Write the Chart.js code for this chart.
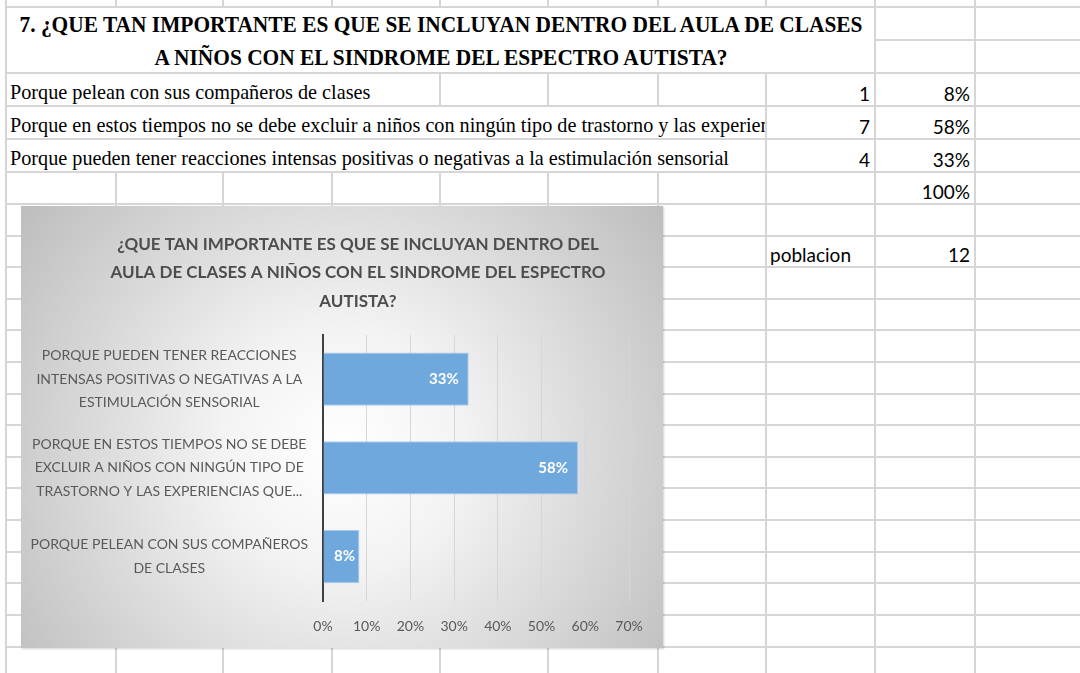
<!DOCTYPE html>
<html lang="es">
<head>
<meta charset="utf-8">
<title>Pregunta 7</title>
<script src="https://cdn.jsdelivr.net/npm/chart.js@4.4.1/dist/chart.umd.min.js"></script>
<style>
  html, body { margin: 0; padding: 0; background: #fff; }
  #sheet { position: relative; width: 1080px; height: 673px; overflow: hidden; }
  .cell { position: absolute; box-sizing: border-box; border-right: 2px solid #d6d6d6; border-bottom: 2px solid #d6d6d6; overflow: hidden; white-space: nowrap; }
  .serif { font-family: 'Liberation Serif', 'Times New Roman', serif; font-size: 21px; color: #000; }
  .serif.bold { font-weight: bold; font-size: 24px; }
  .num { font-family: Lato, 'Open Sans', sans-serif; font-size: 19px; color: #000; }
  .txt { position: absolute; display: inline-block; line-height: normal; }
  #leftLine { position: absolute; left: 5px; top: 0; width: 2px; height: 673px; background: #d6d6d6; }
  #chartBox {
    position: absolute; left: 21px; top: 206px; width: 642px; height: 442px;
    background: radial-gradient(circle farthest-corner at 50% 55%, #ffffff 0%, #f3f3f3 30%, #bdbdbd 100%);
    box-shadow: 1px 1px 2px rgba(0,0,0,0.18);
  }
</style>
</head>
<body>
<div id="sheet">
  <div id="leftLine"></div>
  <div id="chartBox"><canvas id="grafico" width="642" height="442"></canvas></div>
</div>
<script>
// datos de la hoja
const tituloHoja = [
  '7. ¿QUE TAN IMPORTANTE ES QUE SE INCLUYAN DENTRO DEL AULA DE CLASES',
  'A NIÑOS CON EL SINDROME DEL ESPECTRO AUTISTA?'
];
const respuestas = [
  'Porque pelean con sus compañeros de clases',
  'Porque en estos tiempos no se debe excluir a niños con ningún tipo de trastorno y las experiencias que',
  'Porque pueden tener reacciones intensas positivas o negativas a la estimulación sensorial'
];
const frecuencias = [1, 7, 4];
const porcentajesTxt = ['8%', '58%', '33%'];
const totalTxt = '100%';
const poblacion = 12;

// datos del grafico
const tituloGrafico = [
  '¿QUE TAN IMPORTANTE ES QUE SE INCLUYAN DENTRO DEL',
  'AULA DE CLASES A NIÑOS CON EL SINDROME DEL ESPECTRO',
  'AUTISTA?'
];
const categorias = [
  ['PORQUE PELEAN CON SUS COMPAÑEROS', 'DE CLASES'],
  ['PORQUE EN ESTOS TIEMPOS NO SE DEBE', 'EXCLUIR A NIÑOS CON NINGÚN TIPO DE', 'TRASTORNO Y LAS EXPERIENCIAS QUE...'],
  ['PORQUE PUEDEN TENER REACCIONES', 'INTENSAS POSITIVAS O NEGATIVAS A LA', 'ESTIMULACIÓN SENSORIAL']
];
const porcentajes = [8.33, 58.33, 33.33];
const etiquetas = ['8%', '58%', '33%'];
const ticksX = [0, 10, 20, 30, 40, 50, 60, 70];

// cuadricula de la hoja
const colX = [7, 117, 224, 333, 441, 549, 659, 767, 876, 976, 1090];
const rowY = [-30, 8, 41, 74, 107, 140, 173, 205, 237, 268, 300, 331, 363, 395, 426, 458, 489, 521, 553, 584, 616, 648, 690];
const merges = [[1, 0, 2, 8], [3, 0, 1, 4], [4, 0, 1, 7], [5, 0, 1, 7]];

const sheet = document.getElementById('sheet');
const cells = {};
const covered = {};

merges.forEach(([r, c, rs, cs]) => {
  for (let i = r; i < r + rs; i++)
    for (let j = c; j < c + cs; j++)
      if (i !== r || j !== c) covered[i + ',' + j] = true;
});

for (let r = 0; r < rowY.length - 1; r++) {
  for (let c = 0; c < colX.length - 1; c++) {
    if (covered[r + ',' + c]) continue;
    const m = merges.find(m => m[0] === r && m[1] === c);
    const rs = m ? m[2] : 1, cs = m ? m[3] : 1;
    const d = document.createElement('div');
    d.className = 'cell';
    d.style.left = colX[c] + 'px';
    d.style.top = rowY[r] + 'px';
    d.style.width = (colX[c + cs] - colX[c]) + 'px';
    d.style.height = (rowY[r + rs] - rowY[r]) + 'px';
    sheet.insertBefore(d, document.getElementById('chartBox'));
    cells[r + ',' + c] = d;
  }
}

function put(r, c, text, cls, align) {
  const s = document.createElement('span');
  s.className = 'txt ' + cls;
  s.textContent = text;
  if (align === 'right') s.style.right = '4px';
  else s.style.left = '3px';
  s.style.bottom = '0px';
  cells[r + ',' + c].appendChild(s);
  return s;
}

// titulo de la hoja
const tcell = cells['1,0'];
const tl = tituloHoja.map((t, i) => {
  const s = document.createElement('span');
  s.className = 'txt serif bold';
  s.textContent = t;
  s.style.top = (i === 0 ? 3 : 36) + 'px';
  s.style.left = '50%';
  tcell.appendChild(s);
  return s;
});
const kT = 843 / tl[0].getBoundingClientRect().width;
tl.forEach(s => { s.style.transform = 'translateX(-50%) scaleX(' + kT + ')'; });

// filas de respuestas
const filas = respuestas.map((t, i) => put(3 + i, 0, t, 'serif', 'left'));
const kB = 719 / filas[2].getBoundingClientRect().width;
filas.forEach(s => { s.style.transformOrigin = 'left center'; s.style.transform = 'scaleX(' + kB + ')'; });

frecuencias.forEach((f, i) => put(3 + i, 7, String(f), 'num', 'right'));
porcentajesTxt.forEach((p, i) => put(3 + i, 8, p, 'num', 'right'));
put(6, 8, totalTxt, 'num', 'right');
put(8, 7, 'poblacion', 'num', 'left');
put(8, 8, String(poblacion), 'num', 'right');

// grafico
const gris = '#595959';

const valueLabels = {
  id: 'valueLabels',
  afterDatasetsDraw(chart) {
    const ctx = chart.ctx;
    const meta = chart.getDatasetMeta(0);
    ctx.save();
    ctx.font = 'bold 15px Lato';
    ctx.fillStyle = '#ffffff';
    ctx.textBaseline = 'middle';
    meta.data.forEach((bar, i) => {
      const txt = etiquetas[i];
      const w = ctx.measureText(txt).width;
      const len = bar.x - bar.base;
      if (len > w + 22) {
        ctx.textAlign = 'right';
        ctx.fillText(txt, bar.x - 10, bar.y);
      } else {
        ctx.textAlign = 'center';
        ctx.fillText(txt, (bar.x + bar.base) / 2 + 3, bar.y);
      }
    });
    ctx.restore();
  }
};

// las etiquetas largas del eje y se salen a la izquierda: no recortarlas
const ejeY = {
  id: 'ejeY',
  afterLayout(chart) {
    chart.scales.y.left = 0;
  }
};

new Chart(document.getElementById('grafico'), {
  type: 'bar',
  data: {
    labels: categorias,
    datasets: [{
      data: porcentajes,
      backgroundColor: '#6FA8DC',
      borderColor: 'rgba(160,198,234,0.9)',
      borderWidth: 1,
      categoryPercentage: 1,
      barPercentage: 0.6
    }]
  },
  options: {
    responsive: false,
    animation: false,
    indexAxis: 'y',
    layout: { padding: { left: 66, right: 34, top: 0, bottom: 0 } },
    plugins: {
      legend: { display: false },
      tooltip: { enabled: false },
      title: {
        display: true,
        text: tituloGrafico,
        color: '#4d4d4d',
        font: { family: 'Lato', size: 17, weight: 'bold', lineHeight: 1.68 },
        padding: { top: 24, bottom: 19 }
      }
    },
    scales: {
      x: {
        min: 0,
        max: 70,
        afterBuildTicks: s => { s.ticks = ticksX.map(v => ({ value: v })); },
        afterFit: s => { s.height = 47; },
        ticks: {
          callback: v => v + '%',
          color: gris,
          font: { family: 'Lato', size: 14 },
          padding: 17
        },
        grid: { color: '#d6d6d6', drawTicks: false },
        border: { display: false }
      },
      y: {
        reverse: true,
        afterFit: s => { s.width = 236; },
        ticks: {
          crossAlign: 'center',
          padding: 15,
          color: gris,
          font: { family: 'Lato', size: 14, lineHeight: 1.68 }
        },
        grid: { display: false, drawTicks: false },
        border: { color: '#404040', width: 2 }
      }
    }
  },
  plugins: [valueLabels, ejeY]
});
</script>
</body>
</html>
